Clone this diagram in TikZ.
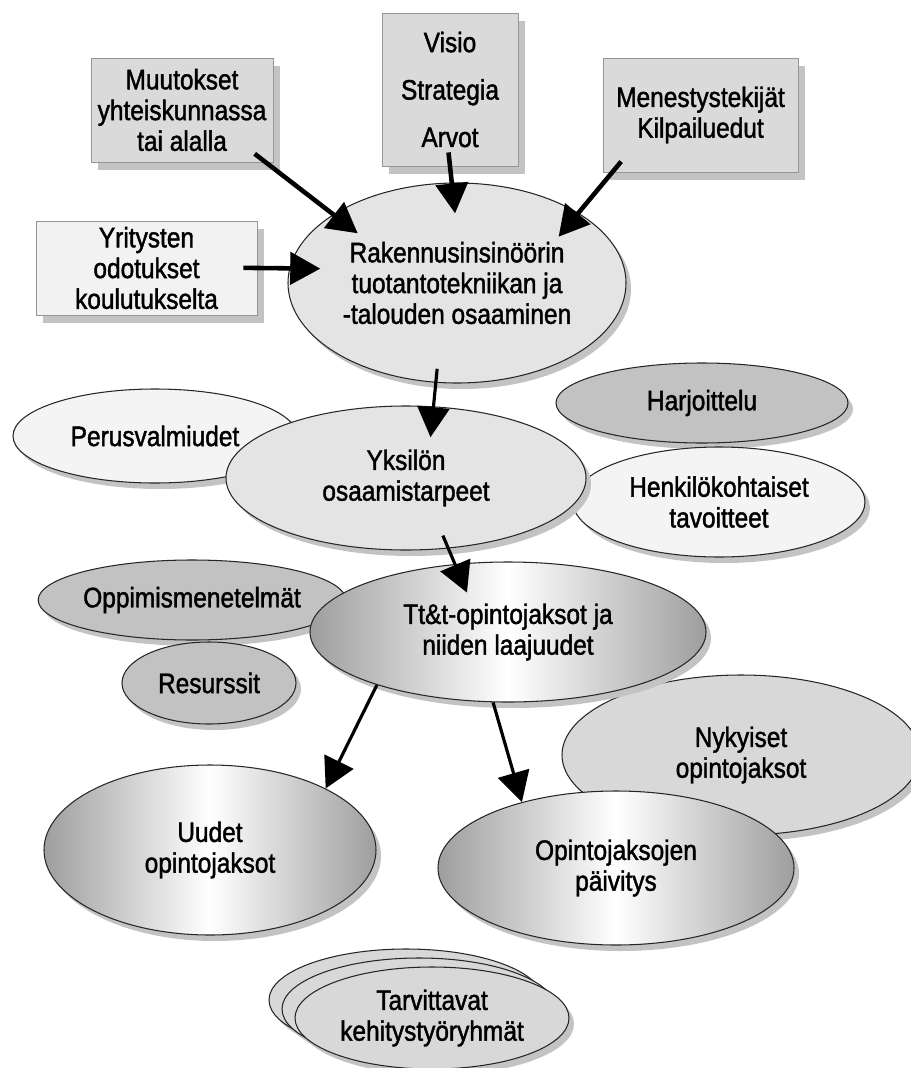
\documentclass[tikz,border=0pt]{standalone}
\usepackage{fontspec}
\setmainfont{Liberation Sans}[FakeStretch=0.87, FakeBold=1.5]
\usetikzlibrary{arrows.meta, shapes.geometric, shadows}
\definecolor{boxfill}{RGB}{218,218,218}
\definecolor{boxpale}{RGB}{242,242,242}
\definecolor{boxedge}{RGB}{150,150,150}
\definecolor{shadowgray}{RGB}{195,195,195}
\definecolor{ringlight}{RGB}{244,244,244}
\definecolor{ringmid}{RGB}{228,228,228}
\definecolor{ringgray}{RGB}{216,216,216}
\definecolor{ringdark}{RGB}{194,194,194}
\definecolor{shadeedge}{RGB}{158,158,158}

\tikzset{
  box/.style={draw=boxedge, fill=boxfill, rectangle, inner sep=0pt, align=center,
    drop shadow={shadow xshift=0.14cm, shadow yshift=-0.16cm, fill=shadowgray, opacity=1}},
  bubble/.style={draw=black!85, ellipse, inner sep=0pt, align=center, line width=0.6pt,
    drop shadow={shadow xshift=0.1cm, shadow yshift=-0.12cm, fill=shadowgray, opacity=1}},
  shadebubble/.style={bubble, left color=shadeedge, right color=shadeedge, middle color=white},
  flow/.style={-{Triangle[length=0.6cm, width=0.64cm]}, line width=2.6pt,
    shorten <=-0.28cm, shorten >=-0.62cm},
  inflow/.style={flow, line width=1.8pt},
  outflow/.style={-{Triangle[length=0.6cm, width=0.64cm]}, line width=1.8pt}
}

\begin{document}
\begin{tikzpicture}[font=\fontsize{16}{17.5}\selectfont]
  \useasboundingbox (0,0) rectangle (18.22,-21.36);

  % input boxes
  \node[box, minimum width=3.64cm, minimum height=2.08cm] (muutokset) at (3.64,-2.20) {Muutokset\\yhteiskunnassa\\tai alalla};
  \node[box, minimum width=2.72cm, minimum height=3.06cm] (visio) at (9.00,-1.79) {Visio\\[9.5pt]Strategia\\[9.5pt]Arvot};
  \node[box, minimum width=3.90cm, minimum height=2.28cm] (menestys) at (14.01,-2.30) {Menestystekijät\\Kilpailuedut};
  \node[box, fill=boxpale, minimum width=4.42cm, minimum height=1.88cm] (yritysten) at (2.93,-5.36) {Yritysten\\odotukset\\koulutukselta};

  \node[bubble, fill=ringmid, minimum width=6.76cm, minimum height=4.00cm] (rakennus) at (9.14,-5.66) {Rakennusinsinöörin\\tuotantotekniikan ja\\-talouden osaaminen};

  % needs around the individual
  \node[bubble, fill=ringdark, minimum width=5.84cm, minimum height=1.60cm] (harjoittelu) at (14.04,-8.06) {Harjoittelu};
  \node[bubble, fill=ringlight, minimum width=5.84cm, minimum height=2.20cm] (henkilo) at (14.38,-10.04) {Henkilökohtaiset\\tavoitteet};
  \node[bubble, fill=ringlight, minimum width=5.68cm, minimum height=1.88cm] (perus) at (3.10,-8.72) {Perusvalmiudet};
  \node[bubble, fill=ringmid, minimum width=7.20cm, minimum height=2.88cm] (yksilon) at (8.12,-9.56) {Yksilön\\osaamistarpeet};

  % courses
  \node[bubble, fill=ringdark, minimum width=4.72cm, minimum height=1.60cm] (oppimis) at (3.84,-12.00) {Oppimismenetelmät};
  \node[bubble, fill=ringdark, minimum width=3.48cm, minimum height=1.64cm] (resurssit) at (4.18,-13.66) {Resurssit};
  \node[bubble, fill=ringgray, minimum width=7.16cm, minimum height=3.20cm] (nykyiset) at (14.82,-15.10) {Nykyiset\\opintojaksot};
  \node[shadebubble, minimum width=7.92cm, minimum height=2.80cm] (tt) at (10.16,-12.64) {Tt\&t-opintojaksot ja\\niiden laajuudet};
  \node[shadebubble, minimum width=6.64cm, minimum height=3.40cm] (uudet) at (4.20,-17.00) {Uudet\\opintojaksot};
  \node[shadebubble, minimum width=7.12cm, minimum height=3.08cm] (paivitys) at (12.32,-17.36) {Opintojaksojen\\päivitys};

  % stacked working groups
  \node[bubble, fill=ringgray, minimum width=5.48cm, minimum height=2.04cm] (ryhma3) at (8.12,-20.00) {};
  \node[bubble, fill=ringgray, minimum width=5.48cm, minimum height=2.04cm] (ryhma2) at (8.38,-20.18) {};
  \node[bubble, fill=ringgray, minimum width=5.48cm, minimum height=2.04cm] (ryhma1) at (8.64,-20.36) {Tarvittavat\\kehitystyöryhmät};

  % arrows
  \draw[flow] (muutokset.-32) -- (rakennus.151.5);
  \draw[flow] (visio.south) -- (rakennus.93);
  \draw[flow] (menestys.-147.3) -- (rakennus.30.8);
  \draw[flow] (yritysten.east) -- (rakennus.175);
  \draw[inflow] (rakennus.258.4) -- (yksilon.69);
  \draw[inflow] (yksilon.-59.5) -- (tt.128);
  \draw[outflow] (tt.202) -- (uudet.28);
  \draw[outflow] (tt.258) -- (paivitys.145);
\end{tikzpicture}
\end{document}
